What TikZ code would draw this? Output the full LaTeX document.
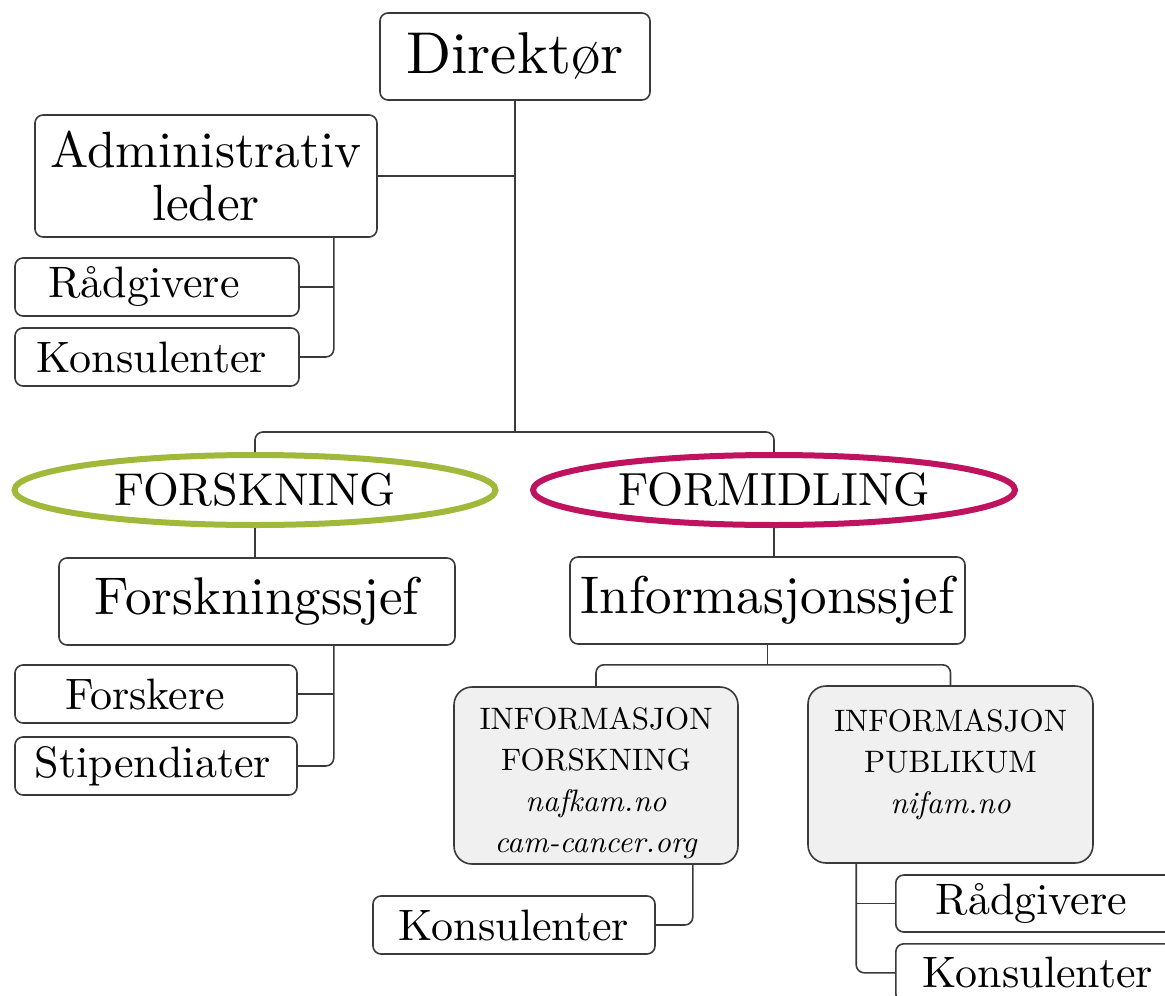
\documentclass[tikz,border=0pt]{standalone}
\usepackage{fontspec}
\setmainfont{lmroman10-regular.otf}[ItalicFont=lmroman10-italic.otf]
\usetikzlibrary{shapes.geometric,calc}
\definecolor{lc}{HTML}{3A3A3A}
\definecolor{fgreen}{HTML}{A0B93A}
\definecolor{fmag}{HTML}{C0135F}
\definecolor{gfill}{HTML}{F0F0F0}
\newcommand\fsz[2]{\fontsize{#1}{#2}\selectfont}
\begin{document}
\begin{tikzpicture}[x=1pt,y=-1pt,
  box/.style={draw=lc, line width=1.6pt, rounded corners=8pt, fill=white, inner sep=0pt, align=center, text=black},
  gbox/.style={box, fill=gfill, rounded corners=18pt},
  oval/.style={ellipse, line width=6pt, inner sep=0pt, fill=white},
  conn/.style={draw=lc, line width=1.6pt, rounded corners=8pt},
  glabel/.style={anchor=north, align=center, inner sep=0pt, font=\fsz{31}{41}}]
\useasboundingbox (0,0) rectangle (1165,996);
\clip (0,0) rectangle (1165,996);

% nodes
\node[box, minimum width=270, minimum height=87, font=\fsz{59}{66}] (dir) at (515,56.5) {Direktør};
\node[box, minimum width=342, minimum height=122, font=\fsz{51}{53}] (admin) at (206,176) {Administrativ\\leder};
\node[box, minimum width=284, minimum height=58, font=\fsz{44}{48}] (rad1) at (157,287) {\hspace*{-26pt}Rådgivere};
\node[box, minimum width=284, minimum height=58, font=\fsz{44}{48}] (kon1) at (157,357) {\hspace*{-10pt}Konsulenter};

\coordinate (split) at (515,432);

\node[oval, draw=fgreen, minimum width=481, minimum height=70, font=\fsz{46}{50}] (forsk) at (255,490) {FORSKNING};
\node[oval, draw=fmag, minimum width=482, minimum height=70, font=\fsz{46.5}{50}] (formid) at (774,490) {FORMIDLING};

\node[box, minimum width=396, minimum height=87, font=\fsz{53}{58}] (fsjef) at (257,601.5) {Forskningssjef};
\node[box, minimum width=395, minimum height=87, font=\fsz{53}{58}] (isjef) at (767.5,600.5) {Informasjonssjef};

\node[box, minimum width=282, minimum height=58, font=\fsz{44}{48}] (forskere) at (156,694) {\hspace*{-22pt}Forskere};
\node[box, minimum width=282, minimum height=58, font=\fsz{44}{48}] (stip) at (156,766) {\hspace*{-6pt}Stipendiater};

\node[gbox, minimum width=284, minimum height=177] (gb1) at (596,775.5) {};
\node[gbox, minimum width=285, minimum height=177] (gb2) at (950.5,774.5) {};
\node[glabel] (t1) at ($(gb1.north)+(0,21)$) {INFORMASJON\\FORSKNING\\\textit{nafkam.no}\\\textit{cam-cancer.org}};
\node[glabel] (t2) at ($(gb2.north)+(0,24)$) {INFORMASJON\\PUBLIKUM\\\textit{nifam.no}};

\node[box, minimum width=282, minimum height=58, font=\fsz{44}{48}] (kon2) at (514,925) {Konsulenter};
\node[box, anchor=west, minimum height=57, text width=225, inner xsep=40, align=left, font=\fsz{44}{48}] (rad2) at (895,903.5) {Rådgivere};
\node[box, anchor=north west, minimum height=58, text width=251, inner xsep=27, align=left, font=\fsz{44}{48}] (kon3) at (895,943) {Konsulenter};

% connectors
\draw[conn] (dir.south) -- (split);
\draw[conn] (admin.east) -- (admin.east -| dir.south);
\draw[conn] ([xshift=-44pt]admin.south east) |- (kon1.east);
\draw[conn] (rad1.east) -- ++(34,0);
\draw[conn] (forsk.north) |- (split) -| (formid.north);
\draw[conn] (forsk.south) -- (fsjef.north -| forsk.south);
\draw[conn] (formid.south) -- (isjef.north -| formid.south);
\draw[conn] ([xshift=-122pt]fsjef.south east) |- (stip.east);
\draw[conn] (forskere.east) -- ++(36,0);
\draw[conn] (isjef.south) -- ++(0,20) coordinate (split2);
\draw[conn] (gb1.north) |- (split2) -| (gb2.north);
\draw[conn] ([xshift=-46pt]gb1.south east) |- (kon2.east);
\draw[conn] ([xshift=49pt]gb2.south west) |- (kon3.west);
\draw[conn] (rad2.west) -- ++(-38,0);
\end{tikzpicture}
\end{document}
